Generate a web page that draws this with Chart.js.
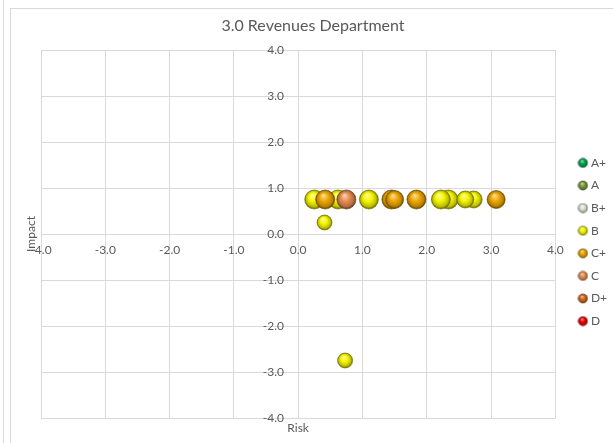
<!DOCTYPE html>
<html>
<head>
<meta charset="utf-8">
<script src="https://cdn.jsdelivr.net/npm/chart.js@4"></script>
<style>
  html, body { margin: 0; padding: 0; background: #fff; }
  canvas { display: block; }
</style>
</head>
<body>
<canvas id="chart" width="613" height="443"></canvas>
<script>
const chartTitle = '3.0 Revenues Department';
const grades = ['A+', 'A', 'B+', 'B', 'C+', 'C', 'D+', 'D'];
const gradeColors = ['#00a651', '#7a9a3c', '#dfe7d2', '#f4f400', '#eda600', '#e58b4f', '#d2661a', '#ee0000'];
const axisTicks = [-4, -3, -2, -1, 0, 1, 2, 3, 4];

// B grade items
const riskB = [0.25, 0.62, 1.10, 2.34, 2.22, 2.73, 2.60, 0.41, 0.73];
const impactB = [0.75, 0.75, 0.75, 0.75, 0.75, 0.75, 0.75, 0.25, -2.75];
const sizeB = [9.5, 9.5, 9.5, 9.5, 9.5, 8.5, 8.5, 7.5, 7.5];

// C+ grade items
const riskCPlus = [0.42, 1.45, 1.50, 1.84, 3.08];
const impactCPlus = [0.75, 0.75, 0.75, 0.75, 0.75];
const sizeCPlus = [9.5, 9.5, 9, 9.5, 9];

// C grade items
const riskC = [0.75];
const impactC = [0.75];
const sizeC = [9.5];

const gradeData = {
  'B': [riskB, impactB, sizeB],
  'C+': [riskCPlus, impactCPlus, sizeCPlus],
  'C': [riskC, impactC, sizeC]
};

function toRgb(hex) {
  const n = parseInt(hex.slice(1), 16);
  return [(n >> 16) & 255, (n >> 8) & 255, n & 255];
}
function mix(hex, t, target) {
  const c = toRgb(hex);
  return 'rgb(' + c.map(v => Math.round(v + (target - v) * t)).join(',') + ')';
}

// shaded ball look for the bubbles
function sphereFill(g, cx, cy, r, color) {
  const grad = g.createRadialGradient(cx - r * 0.2, cy - r * 0.45, r * 0.05, cx, cy, r);
  grad.addColorStop(0, mix(color, 0.6, 255));
  grad.addColorStop(0.45, color);
  grad.addColorStop(0.82, mix(color, 0.22, 0));
  grad.addColorStop(1, mix(color, 0.6, 0));
  return grad;
}

function legendIcon(color) {
  const c = document.createElement('canvas');
  c.width = 11; c.height = 11;
  const g = c.getContext('2d');
  g.beginPath();
  g.arc(5.5, 5.5, 4.6, 0, Math.PI * 2);
  g.fillStyle = sphereFill(g, 5.5, 5.5, 4.6, color);
  g.fill();
  g.lineWidth = 0.6;
  g.strokeStyle = mix(color, 0.5, 0);
  g.stroke();
  return c;
}
const legendIcons = gradeColors.map(legendIcon);

const datasets = grades.map((grade, i) => {
  const d = gradeData[grade] || [[], [], []];
  const color = gradeColors[i];
  return {
    label: grade,
    data: d[0].map((x, k) => ({ x: x, y: d[1][k], r: d[2][k] })),
    // B is painted first so the C grades sit on top of it
    order: grade === 'B' ? 1 : 0,
    backgroundColor: (ctx) => {
      if (!ctx.raw) return color;
      const xs = ctx.chart.scales.x, ys = ctx.chart.scales.y;
      if (!xs || !ys) return color;
      const px = xs.getPixelForValue(ctx.raw.x), py = ys.getPixelForValue(ctx.raw.y);
      if (!isFinite(px) || !isFinite(py)) return color;
      return sphereFill(ctx.chart.ctx, px, py, ctx.raw.r, color);
    },
    borderColor: mix(color, 0.5, 0),
    borderWidth: 0.7
  };
});

const FONT = 'Lato, "Open Sans", sans-serif';
const TEXT = '#595959';
const GRID = '#d9d9d9';

const framePlugin = {
  id: 'frame',
  beforeDraw(chart) {
    const g = chart.ctx;
    g.save();
    g.fillStyle = '#fff';
    g.fillRect(0, 0, chart.width, chart.height);
    g.strokeStyle = '#d9d9d9';
    g.lineWidth = 1;
    g.strokeRect(10.5, 8.5, chart.width + 10, chart.height + 10);
    g.beginPath();
    g.moveTo(3.5, 0);
    g.lineTo(3.5, chart.height);
    g.stroke();
    g.restore();
  },
  afterDraw(chart) {
    const g = chart.ctx;
    const a = chart.chartArea;
    g.save();
    g.fillStyle = TEXT;
    g.textAlign = 'center';
    g.textBaseline = 'middle';
    g.font = '16px ' + FONT;
    g.fillText(chartTitle, 313, 26);
    g.font = '12px ' + FONT;
    g.fillText('Risk', (a.left + a.right) / 2, a.bottom + 10);
    g.translate(a.left - 10, (a.top + a.bottom) / 2);
    g.rotate(-Math.PI / 2);
    g.fillText('Impact', 0, 0);
    g.restore();
  }
};

const tickFont = { family: FONT, size: 12 };
const fmt = (v) => Number(v).toFixed(1);

new Chart(document.getElementById('chart'), {
  type: 'bubble',
  data: { datasets: datasets },
  options: {
    responsive: false,
    animation: false,
    devicePixelRatio: 1,
    layout: { padding: { left: 41, top: 50, bottom: 25, right: -4 } },
    scales: {
      x: {
        type: 'linear',
        min: -4, max: 4,
        position: { y: 0 },
        afterBuildTicks: (s) => { s.ticks = axisTicks.map(v => ({ value: v })); },
        grid: { color: GRID, drawTicks: false },
        border: { display: false },
        ticks: { color: TEXT, font: tickFont, padding: 9, callback: fmt }
      },
      y: {
        type: 'linear',
        min: -4, max: 4,
        // labels sit a little left of the zero line
        position: { x: -0.22 },
        afterBuildTicks: (s) => { s.ticks = axisTicks.map(v => ({ value: v })); },
        grid: { color: GRID, drawTicks: false },
        border: { display: false },
        ticks: { color: TEXT, font: tickFont, callback: fmt }
      },
      gap: {
        type: 'linear',
        position: 'right',
        display: true,
        grid: { display: false },
        border: { display: false },
        ticks: { display: false },
        afterFit: (s) => { s.width = 15; }
      }
    },
    plugins: {
      title: { display: false },
      tooltip: { enabled: false },
      legend: {
        position: 'right',
        title: { display: true, text: '', padding: { top: 1.6, bottom: 0 }, font: { size: 12 } },
        labels: {
          usePointStyle: true,
          pointStyleWidth: 4,
          padding: 10.6,
          color: TEXT,
          font: { family: FONT, size: 12 },
          generateLabels: (chart) => chart.data.datasets.map((ds, i) => ({
            text: ds.label,
            fillStyle: gradeColors[i],
            strokeStyle: gradeColors[i],
            lineWidth: 0,
            pointStyle: legendIcons[i],
            hidden: false,
            datasetIndex: i,
            fontColor: TEXT
          }))
        }
      }
    }
  },
  plugins: [framePlugin]
});
</script>
</body>
</html>
